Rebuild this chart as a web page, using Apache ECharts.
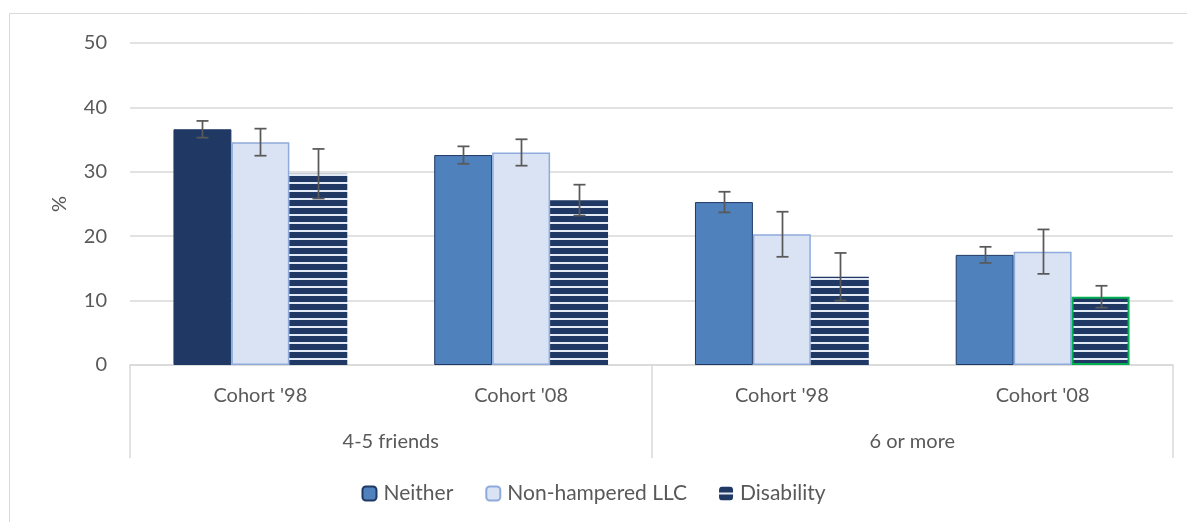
<!DOCTYPE html>
<html><head><meta charset="utf-8">
<script src="https://cdn.jsdelivr.net/npm/echarts@6/dist/echarts.min.js"></script>
<style>html,body{margin:0;padding:0;background:#fff}#c{width:1187px;height:522px}</style>
</head><body><div id="c"></div>
<script>
const cohorts = ["Cohort '98", "Cohort '08", "Cohort '98", "Cohort '08"];
const groups = ["4-5 friends", "6 or more"];
const yTicks = [0, 10, 20, 30, 40, 50];
const neither = [36.6, 32.6, 25.3, 17.1];
const neitherErr = [1.3, 1.35, 1.6, 1.25];
const nonHampered = [34.6, 33.0, 20.3, 17.6];
const nonHamperedErr = [2.1, 2.05, 3.5, 3.45];
const disability = [29.7, 25.6, 13.7, 10.6];
const disabilityErr = [3.85, 2.4, 3.7, 1.7];

const FONT = 'Lato, "Noto Sans", sans-serif';
const FS = 20;
const TXT = '#595959';
const GRID = '#D9D9D9';

// stripe pattern
const pc = document.createElement('canvas');
pc.width = 8; pc.height = 8;
const pctx = pc.getContext('2d');
pctx.fillStyle = '#1F3864'; pctx.fillRect(0, 0, 8, 8);
pctx.fillStyle = '#E4EAF4'; pctx.fillRect(0, 6, 8, 2);
const stripe = { image: pc, repeat: 'repeat' };

const chart = echarts.init(document.getElementById('c'), null, { renderer: 'canvas' });

const seriesDefs = [
  { name: 'Neither', data: neither, err: neitherErr,
    style: { color: '#4F81BD', borderColor: '#1F3864', borderWidth: 1 } },
  { name: 'Non-hampered LLC', data: nonHampered, err: nonHamperedErr,
    style: { color: '#DAE3F3', borderColor: '#8FAADC', borderWidth: 1.5 } },
  { name: 'Disability', data: disability, err: disabilityErr,
    style: { color: stripe, borderColor: '#1F3864', borderWidth: 0 } }
];

const series = seriesDefs.map((s, si) => ({
  type: 'bar', name: s.name, xAxisIndex: 0, yAxisIndex: 0,
  barGap: 0, barCategoryGap: '33.333%',
  itemStyle: s.style,
  data: s.data.map((v, i) => {
    if (si === 0 && i === 0) return { value: v, itemStyle: { color: '#1F3864' } };
    if (si === 2 && i === 3) return { value: v, itemStyle: { borderColor: '#00B050', borderWidth: 2 } };
    return v;
  }),
  z: 2
}));

seriesDefs.forEach((s, si) => {
  series.push({
    type: 'custom', name: s.name + ' err', xAxisIndex: 0, yAxisIndex: 0, z: 5,
    silent: true,
    data: s.data.map((v, i) => [i, v - s.err[i], v + s.err[i]]),
    renderItem: function (params, api) {
      const band = api.size([1, 0])[0];
      const bw = band / 4.5;
      const lo = api.coord([api.value(0), api.value(1)]);
      const hi = api.coord([api.value(0), api.value(2)]);
      const x = Math.round(lo[0] + (si - 1) * bw) + 0.5;
      const st = { stroke: '#595959', lineWidth: 1.75 };
      return { type: 'group', children: [
        { type: 'line', shape: { x1: x, y1: hi[1], x2: x, y2: lo[1] }, style: st },
        { type: 'line', shape: { x1: x - 6, y1: hi[1], x2: x + 6, y2: hi[1] }, style: st },
        { type: 'line', shape: { x1: x - 6, y1: lo[1], x2: x + 6, y2: lo[1] }, style: st }
      ]};
    }
  });
});

chart.setOption({
  animation: false,
  backgroundColor: '#fff',
  textStyle: { fontFamily: FONT },
  graphic: [{ type: 'rect', shape: { x: 9.5, y: 13.5, width: 1300, height: 600 },
    style: { fill: 'none', stroke: GRID, lineWidth: 1 }, silent: true, z: -10 }],
  grid: { left: 130, right: 14, top: 43, bottom: 157, containLabel: false },
  legend: {
    bottom: 13, left: 'center', itemWidth: 14, itemHeight: 14, itemGap: 32,
    textStyle: { color: TXT, fontSize: 21, fontFamily: FONT, padding: [0, 0, 0, 2] },
    data: seriesDefs.map(s => s.name)
  },
  xAxis: [
    { type: 'category', data: cohorts, position: 'bottom',
      axisLine: { show: true, lineStyle: { color: GRID, width: 1.5 } },
      axisTick: { show: false },
      axisLabel: { color: TXT, fontSize: FS, margin: 21, fontFamily: FONT } },
    { type: 'category', data: groups, position: 'bottom',
      axisLine: { show: false },
      axisTick: { show: true, length: 93, lineStyle: { color: GRID, width: 1.5 } },
      axisLabel: { color: TXT, fontSize: FS, margin: 67, fontFamily: FONT } }
  ],
  yAxis: {
    type: 'value', min: yTicks[0], max: yTicks[yTicks.length - 1], interval: 10,
    name: '%', nameLocation: 'middle', nameGap: 60, nameRotate: 90,
    nameTextStyle: { color: TXT, fontSize: FS, fontFamily: FONT },
    axisLine: { show: false }, axisTick: { show: false },
    axisLabel: { color: TXT, fontSize: FS, margin: 23, fontFamily: FONT },
    splitLine: { lineStyle: { color: GRID, width: 1.5 } }
  },
  series: series
});
</script></body></html>
